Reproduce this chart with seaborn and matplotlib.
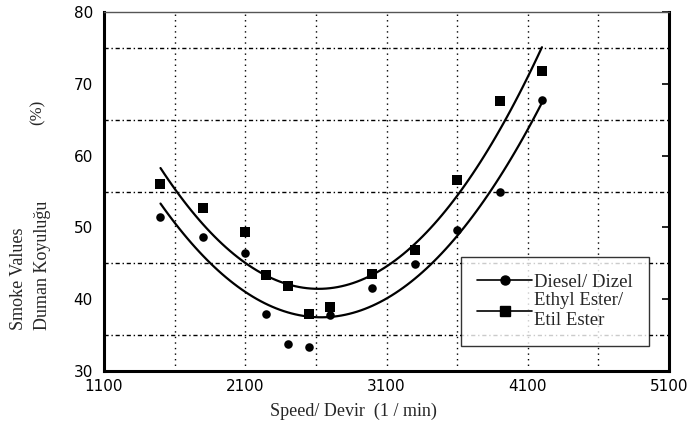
import numpy as np
import pandas as pd
import matplotlib
matplotlib.use('Agg')
import matplotlib.pyplot as plt
import seaborn as sns
from matplotlib.lines import Line2D

# 데이터
speed_diesel = [1500, 1800, 2100, 2250, 2400, 2550, 2700, 3000, 3300, 3600, 3900, 4200]
smoke_diesel = [51.4, 48.7, 46.5, 37.9, 33.8, 33.4, 37.8, 41.5, 44.9, 49.6, 55.0, 67.7]

speed_ester = [1500, 1800, 2100, 2250, 2400, 2550, 2700, 3000, 3300, 3600, 3900, 4200]
smoke_ester = [56.1, 52.7, 49.3, 43.4, 41.8, 37.9, 38.9, 43.5, 46.8, 56.6, 67.6, 71.8]

x_ticks = [1100, 2100, 3100, 4100, 5100]
y_ticks = [30, 40, 50, 60, 70, 80]
x_grid = [1600, 2100, 2600, 3100, 3600, 4100, 4600]
y_grid = [35, 45, 55, 65, 75]

df_d = pd.DataFrame({'speed': speed_diesel, 'smoke': smoke_diesel})
df_e = pd.DataFrame({'speed': speed_ester, 'smoke': smoke_ester})

sns.set_style('white')
serif = ['Liberation Serif', 'DejaVu Serif']

fig = plt.figure(figsize=(6.9, 4.29), dpi=100)
ax = fig.add_axes([0.1507, 0.135, 0.819, 0.837])

# 격자
for gx in x_grid:
    ax.axvline(gx, color='black', lw=1.0, ls=(0, (1, 3)), zorder=0)
for gy in y_grid:
    ax.axhline(gy, color='black', lw=1.0, ls=(0, (3, 2, 1, 2)), zorder=0)

# 2차 회귀선 + 산점도
sns.regplot(x='speed', y='smoke', data=df_d, order=2, ci=None, truncate=True, ax=ax,
            marker='o', color='black',
            scatter_kws={'s': 38, 'zorder': 3, 'alpha': 1, 'linewidths': 0},
            line_kws={'lw': 1.6})
sns.regplot(x='speed', y='smoke', data=df_e, order=2, ci=None, truncate=True, ax=ax,
            marker='s', color='black',
            scatter_kws={'s': 55, 'zorder': 3, 'alpha': 1, 'linewidths': 0},
            line_kws={'lw': 1.6})

ax.set_xlim(1100, 5100)
ax.set_ylim(30, 80)
ax.set_xticks(x_ticks)
ax.set_yticks(y_ticks)
ax.tick_params(axis='both', direction='in', length=5, width=1.2, labelsize=11,
               right=True, colors='black')
ax.tick_params(axis='x', pad=6)
ax.tick_params(axis='y', pad=8)
for s in ['left', 'bottom', 'right']:
    ax.spines[s].set_linewidth(2.2)
    ax.spines[s].set_color('black')
ax.spines['top'].set_linewidth(1.0)
ax.spines['top'].set_color('#555555')

ax.set_xlabel('')
ax.set_ylabel('')
fig.text(0.512, 0.04, 'Speed/ Devir  (1 / min)', ha='center', va='center',
         fontsize=13, family=serif)
fig.text(0.027, 0.23, 'Smoke Values', rotation=90, ha='center', va='bottom',
         fontsize=13, family=serif)
fig.text(0.062, 0.23, 'Duman Koyuluğu', rotation=90, ha='center', va='bottom',
         fontsize=13, family=serif)
fig.text(0.054, 0.737, '(%)', rotation=90, ha='center', va='center',
         fontsize=12, family=serif)

handles = [Line2D([], [], color='black', lw=1.2, marker='o', markersize=6.5),
           Line2D([], [], color='black', lw=1.2, marker='s', markersize=7.5)]
leg = ax.legend(handles, ['Diesel/ Dizel', 'Ethyl Ester/\nEtil Ester'],
                loc='lower right', bbox_to_anchor=(0.965, 0.07), borderaxespad=0,
                frameon=True, fancybox=False, edgecolor='black', handlelength=2.9,
                handletextpad=0.1, borderpad=0.9, labelspacing=0.1,
                prop={'family': serif, 'size': 13.5})
leg.get_frame().set_linewidth(1.0)

fig.savefig('out.png', dpi=100)
